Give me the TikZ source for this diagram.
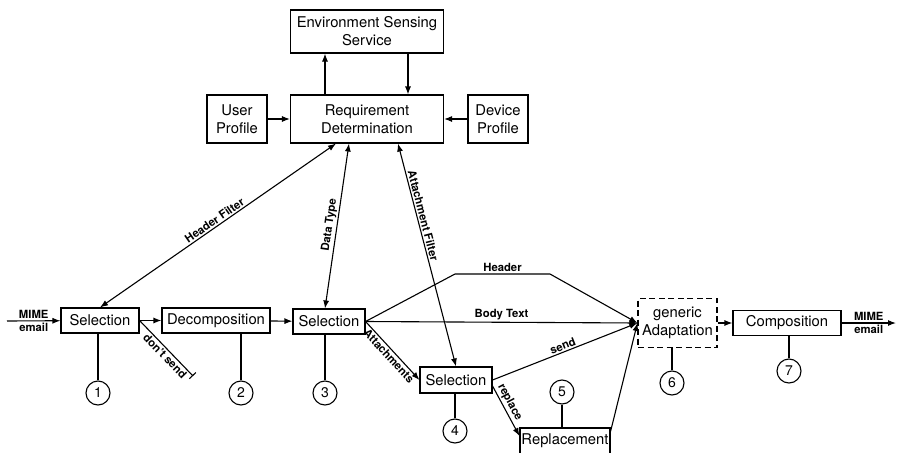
\documentclass[tikz,border=0pt]{standalone}
\usepackage{fontspec}
\setmainfont{TeX Gyre Heros}
\usetikzlibrary{arrows.meta, positioning, calc}
\newcommand\boxfont{\fontsize{14.8}{18}\selectfont}
\newcommand\lblfont{\fontsize{11.3}{13}\selectfont\bfseries}
\newcommand\numfont{\fontsize{14}{16}\selectfont}
\begin{document}
\begin{tikzpicture}[
    x=1pt, y=-1pt,
    block/.style={draw, line width=1.1pt, inner sep=0pt, align=center, font=\boxfont},
    num/.style={circle, draw, line width=1.1pt, minimum size=24pt, inner sep=0pt, font=\numfont},
    lbl/.style={font=\lblfont, inner sep=1.5pt},
    wire/.style={line width=1.1pt},
    arr/.style={wire, -{Latex[length=8pt,width=6pt]}},
    both/.style={wire, {Latex[length=8pt,width=6pt]}-{Latex[length=8pt,width=6pt]}}
]
\useasboundingbox (0,0) rectangle (898,453);

% Requirement side
\node[block, minimum width=153pt, minimum height=43pt] (env) at (367,31.5) {Environment Sensing\\Service};
\node[block, minimum width=153pt, minimum height=48pt] (req) at (367,119) {Requirement\\Determination};
\node[block, minimum width=60pt, minimum height=48pt] (user) at (237,119) {User\\Profile};
\node[block, minimum width=60pt, minimum height=48pt] (device) at (498,119) {Device\\Profile};

% Processing chain
\node[block, minimum width=78pt, minimum height=25pt] (sel1) at (100,320.5) {Selection};
\node[block, minimum width=108pt, minimum height=25pt] (decomp) at (216,320.5) {Decomposition};
\node[block, minimum width=72pt, minimum height=25pt] (sel3) at (329,321.5) {Selection};
\node[block, minimum width=72pt, minimum height=26pt] (sel4) at (456,380) {Selection};
\node[block, minimum width=90pt, minimum height=26pt] (repl) at (565,441) {Replacement};
\node[block, dash pattern=on 6pt off 3.5pt, minimum width=79pt, minimum height=49pt] (adapt) at (677.5,323) {generic\\Adaptation};
\node[block, minimum width=108pt, minimum height=25pt] (comp) at (787,323) {Composition};

% Step numbers
\node[num] (c1) at (98,393) {1};
\node[num] (c2) at (241,393) {2};
\node[num] (c3) at (325,393) {3};
\node[num] (c4) at (455,431) {4};
\node[num] (c5) at (562,392) {5};
\node[num] (c6) at (672,383) {6};
\node[num] (c7) at (789,371) {7};
\foreach \c/\b in {c1/sel1, c2/decomp, c3/sel3, c4/sel4, c6/adapt, c7/comp}
    \draw[wire] (\c) -- (\c |- \b.south);
\draw[wire] (c5) -- (c5 |- repl.north);

% Free ends
\coordinate (in) at (7,321);
\coordinate (out) at (896,323);
\coordinate (stop) at (193,376);
\coordinate (hdA) at (455,274);
\coordinate (hdB) at (550,274);

% Requirement connections
\draw[arr] (user) -- (req);
\draw[arr] (device) -- (req);
\draw[arr] ([xshift=-42pt]req.north) -- ([xshift=-42pt]env.south);
\draw[arr] ([xshift=41pt]env.south) -- ([xshift=41pt]req.north);
\draw[both] (sel1.north) -- node[lbl, sloped, above]{Header Filter} ([xshift=-31pt]req.south);
\draw[both] ([xshift=-4pt]sel3.north) -- node[lbl, sloped, above]{Data Type} ([xshift=-18pt]req.south);
\draw[both] ([xshift=31pt]req.south) -- node[lbl, sloped, above, pos=0.33]{Attachment Filter} (sel4.north);

% Mail flow
\draw[arr] (in) -- node[lbl, above]{MIME} node[lbl, below]{email} (sel1);
\draw[arr] (sel1) -- (decomp);
\draw[wire, -{Bar[width=9pt]}] (sel1.east) -- node[lbl, sloped, below, pos=0.56]{don't send} (stop);
\draw[arr] (decomp) -- (sel3);
\draw[arr] (sel3.east) -- (hdA) -- node[lbl, above]{Header} (hdB) -- (adapt.west);
\draw[arr] (sel3.east) -- node[lbl, above]{Body Text} (adapt.west);
\draw[arr] (sel3.east) -- node[lbl, sloped, below, pos=0.52]{Attachments} (sel4.west);
\draw[arr] (sel4.east) -- node[lbl, sloped, above]{send} (adapt.west);
\draw[arr] ([yshift=-6pt]sel4.east) -- node[lbl, sloped, above, pos=0.4]{replace} ([yshift=5pt]repl.west);
\draw[arr] ([yshift=-4pt]repl.north east) -- (adapt.west);
\draw[arr] (adapt.east) -- (comp.west);
\draw[arr] (comp) -- node[lbl, above]{MIME} node[lbl, below]{email} (out);

\end{tikzpicture}
\end{document}
